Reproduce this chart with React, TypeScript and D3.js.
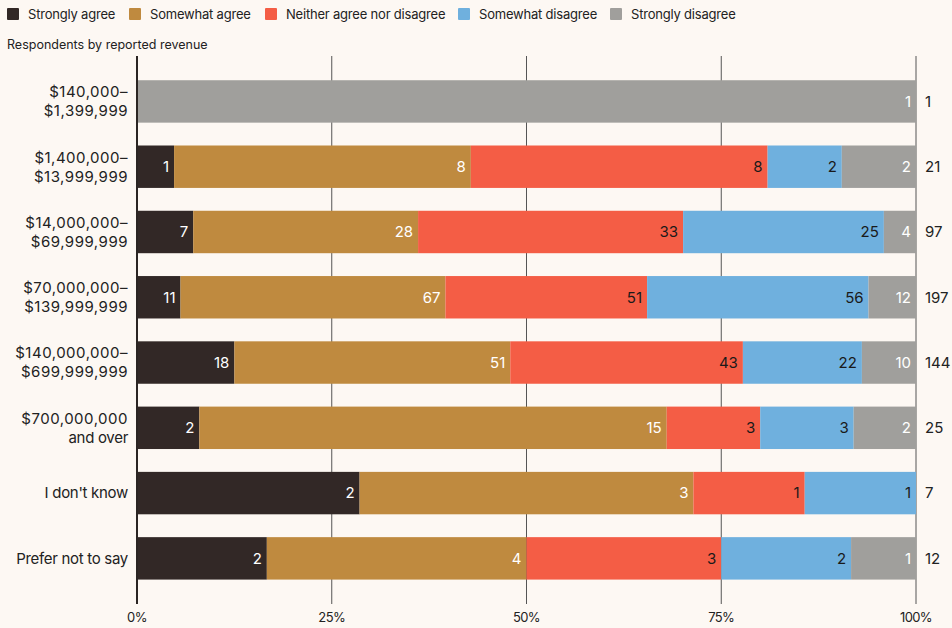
import React from "react";
import * as d3 from "d3";

const categories = [
  ["$140,000–", "$1,399,999"],
  ["$1,400,000–", "$13,999,999"],
  ["$14,000,000–", "$69,999,999"],
  ["$70,000,000–", "$139,999,999"],
  ["$140,000,000–", "$699,999,999"],
  ["$700,000,000", "and over"],
  ["I don't know"],
  ["Prefer not to say"],
];
const seriesNames = ["Strongly agree", "Somewhat agree", "Neither agree nor disagree", "Somewhat disagree", "Strongly disagree"];
const stronglyAgree = [0, 1, 7, 11, 18, 2, 2, 2];
const somewhatAgree = [0, 8, 28, 67, 51, 15, 3, 4];
const neither = [0, 8, 33, 51, 43, 3, 1, 3];
const somewhatDisagree = [0, 2, 25, 56, 22, 3, 1, 2];
const stronglyDisagree = [1, 2, 4, 12, 10, 2, 0, 1];
const tickValues = [0, 0.25, 0.5, 0.75, 1];
const colors = ["#322826", "#bf8a3f", "#f45d45", "#6fb0de", "#a09f9c"];
const labelColors = ["#ffffff", "#ffffff", "#1a1a1a", "#1a1a1a", "#ffffff"];
const legendX = [7, 129, 265, 458, 610];

const W = 952, H = 628;
const FONT = "Inter, 'Noto Sans', sans-serif";

export default function App() {
  const series = [stronglyAgree, somewhatAgree, neither, somewhatDisagree, stronglyDisagree];
  const x = d3.scaleLinear().domain([0, 1]).range([137, 916]);
  const y = d3.scaleBand<number>().domain(d3.range(categories.length)).range([68.8, 591]).paddingInner(0.35).paddingOuter(0.175);
  const rows = categories.map((c, i) => {
    const vals = series.map((s) => s[i]);
    const total = d3.sum(vals);
    let acc = 0;
    const segs = vals.map((v, k) => {
      const x0 = acc / total;
      acc += v;
      return { k, v, x0, x1: acc / total };
    });
    return { c, i, total, segs };
  });
  const bw = y.bandwidth();
  return (
    <svg width={W} height={H} style={{ display: "block", position: "absolute", left: 0, top: 0, background: "#fdf8f3" }} fontFamily={FONT}>
      <rect width={W} height={H} fill="#fdf8f3" />
      {seriesNames.map((n, k) => (
        <g key={n}>
          <rect x={legendX[k]} y={8} width={12} height={12} fill={colors[k]} rx={1} />
          <text x={legendX[k] + 21} y={19} fontSize={13} fill="#222" letterSpacing={-0.2}>{n}</text>
        </g>
      ))}
      <text x={7} y={49} fontSize={12.5} fill="#222">Respondents by reported revenue</text>
      {tickValues.map((t) => (
        <g key={t}>
          <line x1={x(t)} x2={x(t)} y1={56} y2={604} stroke={t === 0 ? "#2b2523" : "#555"} strokeWidth={t === 0 ? 2 : 1} />
          <text x={x(t)} y={622} fontSize={13} textAnchor="middle" fill="#222" letterSpacing={-0.6}>{d3.format(".0%")(t)}</text>
        </g>
      ))}
      {rows.map((r) => {
        const y0 = y(r.i)!;
        const cy = y0 + bw / 2;
        return (
          <g key={r.i}>
            {r.segs.filter((s) => s.v > 0).map((s) => (
              <g key={s.k}>
                <rect x={x(s.x0)} y={y0} width={x(s.x1) - x(s.x0)} height={bw} fill={colors[s.k]} />
                <text x={x(s.x1) - 5} y={cy} dy="0.36em" fontSize={15} textAnchor="end" fill={labelColors[s.k]}>{s.v}</text>
              </g>
            ))}
            <text x={925} y={cy} dy="0.36em" fontSize={15} fill="#222">{r.total}</text>
            {r.c.map((line, li) => (
              <text key={li} x={128} y={cy + (r.c.length === 1 ? 0 : (li === 0 ? -9.5 : 9.5))} dy="0.36em" fontSize={15} textAnchor="end" fill="#222" letterSpacing={/\d/.test(line) ? 0.5 : -0.3}>{line}</text>
            ))}
          </g>
        );
      })}
      <line x1={137} x2={137} y1={56} y2={604} stroke="#2b2523" strokeWidth={2} />
    </svg>
  );
}
